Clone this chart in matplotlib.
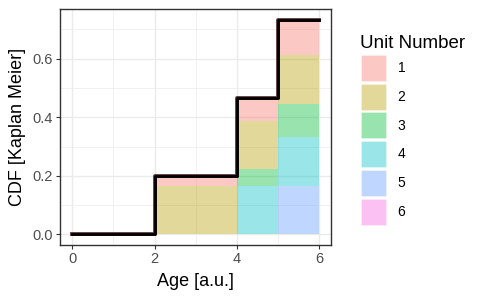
#!/usr/bin/env python3
# -*- coding: utf-8 -*-
"""CDF (Kaplan Meier) theo tuoi, to mau xep chong theo Unit Number."""
import matplotlib
matplotlib.use("Agg")
import matplotlib.pyplot as plt
from matplotlib.patches import Patch
from matplotlib.ticker import MultipleLocator

# ------- du lieu doc tu hinh -------
age_step = [0, 2, 4, 5, 6]                    # moc buoc CDF
cdf_step = [0.0, 0.2, 0.4667, 0.7333, 0.7333]  # CDF Kaplan Meier

seg_left = [2, 4, 5]                          # khoang tuoi cua cac cot xep
seg_width = [2, 1, 1]
units = ["1", "2", "3", "4", "5", "6"]
# phan dong gop cua tung unit trong moi khoang
unit_1 = [0.0333, 0.0778, 0.1222]
unit_2 = [0.1667, 0.1667, 0.1667]
unit_3 = [0.0, 0.0556, 0.1111]
unit_4 = [0.0, 0.1667, 0.1667]
unit_5 = [0.0, 0.0, 0.1667]
unit_6 = [0.0, 0.0, 0.0]

colors = ["#F8766D", "#B79F00", "#00BA38", "#00BFC4", "#619CFF", "#F564E3"]

plt.rcParams["font.family"] = ["Liberation Sans", "DejaVu Sans"]

fig = plt.figure(figsize=(4.8, 3.0), dpi=100)
ax = fig.add_axes([0.125, 0.183, 0.565, 0.787])

# xep chong: unit 6 duoi cung, unit 1 tren cung (kieu ggplot)
stack = [unit_1, unit_2, unit_3, unit_4, unit_5, unit_6]
bottom = [0.0] * len(seg_left)
for vals, c in zip(stack[::-1], colors[::-1]):
    ax.bar(seg_left, vals, width=seg_width, bottom=bottom, align="edge",
           color=c, alpha=0.4, linewidth=0, zorder=2)
    bottom = [b + v for b, v in zip(bottom, vals)]

ax.step(age_step, cdf_step, where="post", color="#3a1010", lw=2.8,
        alpha=0.8, zorder=3)
ax.step(age_step, cdf_step, where="post", color="black", lw=2.0, zorder=4)

ax.set_xlim(-0.3, 6.3)
ax.set_ylim(-0.0367, 0.77)
ax.xaxis.set_major_locator(MultipleLocator(2))
ax.xaxis.set_minor_locator(MultipleLocator(1))
ax.yaxis.set_major_locator(MultipleLocator(0.2))
ax.yaxis.set_minor_locator(MultipleLocator(0.1))
ax.yaxis.set_major_formatter(lambda v, p: f"{v:.1f}")
ax.grid(which="major", color="#EBEBEB", lw=1.0, zorder=0)
ax.grid(which="minor", color="#EBEBEB", lw=0.5, zorder=0)
ax.set_axisbelow(True)
ax.tick_params(which="major", length=3, width=0.8, color="#333333",
               labelcolor="#4D4D4D", labelsize=10.5, pad=2)
ax.tick_params(which="minor", length=0)
for s in ax.spines.values():
    s.set_color("#333333")
    s.set_linewidth(1.0)

ax.set_xlabel("Age [a.u.]", fontsize=13, labelpad=5)
ax.set_ylabel("CDF [Kaplan Meier]", fontsize=13, labelpad=5)

h = [Patch(facecolor=c, alpha=0.4, edgecolor="white", linewidth=0.5, label=u)
     for u, c in zip(units, colors)]
leg = fig.legend(handles=h, title="Unit Number", loc="upper left",
                 bbox_to_anchor=(0.725, 0.925), frameon=False, fontsize=10,
                 title_fontsize=13.5, handlelength=1.87, handleheight=2.5,
                 labelspacing=0.2, handletextpad=0.8, alignment="left")

fig.savefig("out.png", dpi=100)
